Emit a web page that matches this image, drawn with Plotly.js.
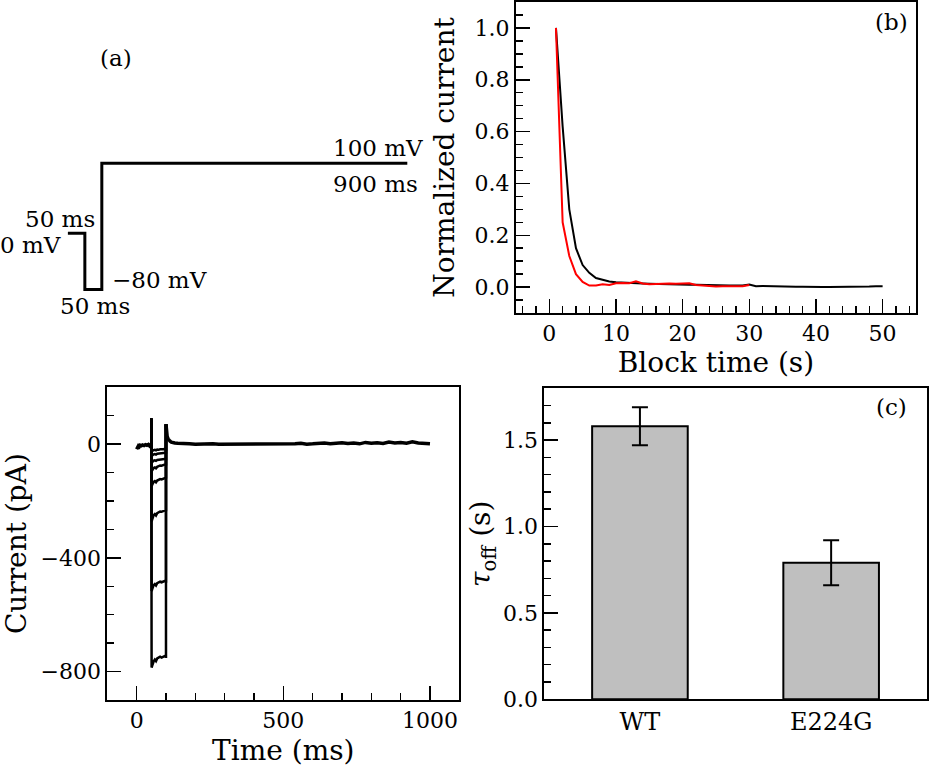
<!DOCTYPE html>
<html><head><meta charset="utf-8">
<script src="https://cdn.plot.ly/plotly-3.0.1.min.js"></script>
<style>html,body{margin:0;padding:0;background:#fff}#chart{width:930px;height:775px}</style>
</head><body><div id="chart"></div>
<script>
// ---- Panel (a): voltage protocol ----
var protoTime = [0, 50, 50, 100, 100, 1000];
var protoVoltage = [0, 0, -80, -80, 100, 100];

// ---- Panel (b): normalized current vs block time ----
var wtBlockTime = [1,2,3,4,5,6,7,8,9,10,11,12,13,14,15,16,17,18,19,20,21,22,23,24,25,26,27,28,29,30,31,32,33,34,35,36,37,38,39,40,41,42,43,44,45,46,47,48,49,50];
var wtCurrent = [1.0,0.62,0.30,0.15,0.085,0.055,0.035,0.027,0.022,0.019,0.017,0.016,0.015,0.014,0.013,0.012,0.012,0.011,0.010,0.010,0.009,0.009,0.008,0.008,0.007,0.007,0.006,0.006,0.006,0.010,0.003,0.004,0.003,0.003,0.002,0.002,0.001,0.001,0.000,0.000,0.000,0.000,0.000,0.000,0.001,0.001,0.002,0.002,0.003,0.003];
var mutBlockTime = [1,2,3,4,5,6,7,8,9,10,11,12,13,14,15,16,17,18,19,20,21,22,23,24,25,26,27,28,29,30];
var mutCurrent = [1.0,0.25,0.12,0.05,0.02,0.006,0.006,0.011,0.008,0.015,0.016,0.015,0.022,0.014,0.011,0.012,0.014,0.014,0.013,0.014,0.015,0.008,0.006,0.004,0.002,0.003,0.003,0.002,0.003,0.008];

// ---- Bottom-left: current traces ----
var preTime = [0, 2, 4, 6, 9, 12, 16, 20, 25, 30, 35, 40, 44, 47, 50];
var preValue = [-18, -10, -14, -6, -9, -4, -6, -3, -5, -2, -4, -1, -6, -3, 0];
var stepTime = [50, 50, 51, 53, 55, 58, 62, 66, 70, 75, 80, 85, 90, 95, 99, 100, 100];
var sweep1 = [0, 90, -26, -24, -22, -21, -20, -22, -19, -20, -18, -19, -18, -17, -18, -18, 70];
var sweep2 = [0, 90, -43, -40, -37, -36, -35, -37, -34, -33, -32, -33, -31, -30, -30, -30, 70];
var sweep3 = [0, 90, -66, -63, -60, -58, -57, -59, -56, -55, -54, -55, -53, -52, -53, -53, 70];
var sweep4 = [0, 90, -96, -92, -87, -84, -82, -85, -80, -77, -75, -76, -73, -72, -71, -71, 70];
var sweep5 = [0, 90, -148, -143, -137, -133, -130, -134, -128, -125, -123, -124, -121, -119, -118, -118, 70];
var sweep6 = [0, 90, -272, -265, -257, -250, -246, -251, -243, -240, -237, -238, -235, -233, -232, -232, 70];
var sweep7 = [0, 90, -517, -510, -502, -496, -492, -497, -489, -486, -484, -486, -483, -482, -483, -483, 70];
var sweep8 = [0, 90, -786, -779, -771, -764, -758, -763, -754, -750, -748, -751, -747, -746, -748, -748, 70];
var postTime = [100,101,102,104,107,110,114,118,124,130,140,150,165,180,200,220,240,260,280,300,320,340,360,380,400,420,440,460,480,500,520,540,560,580,600,620,640,660,680,700,720,740,760,780,800,820,840,860,880,900,920,940,960,980,1000];
var postValue = [70,50,38,27,19,14,10,7,5,4,3,2,1,1,0,1,0,1,0,0,1,-1,1,0,0,2,0,1,-1,0,2,1,3,0,1,2,4,1,3,5,2,4,1,6,3,5,2,7,4,6,3,8,4,2,1];

// ---- Bottom-right: tau_off bars ----
var groups = ['WT', 'E224G'];
var tauOff = [1.58, 0.79];
var tauErr = [0.11, 0.13];

var F = 'DejaVu Serif';
var traces = [];
traces.push({x: protoTime, y: protoVoltage, xaxis: 'x', yaxis: 'y', mode: 'lines',
  line: {color: 'black', width: 3}, showlegend: false, hoverinfo: 'skip'});
traces.push({x: wtBlockTime, y: wtCurrent, xaxis: 'x2', yaxis: 'y2', mode: 'lines', name: 'WT',
  line: {color: 'black', width: 2}, showlegend: false});
traces.push({x: mutBlockTime, y: mutCurrent, xaxis: 'x2', yaxis: 'y2', mode: 'lines', name: 'E224G',
  line: {color: '#ff0000', width: 2}, showlegend: false});
traces.push({x: preTime, y: preValue, xaxis: 'x3', yaxis: 'y3', mode: 'lines',
  line: {color: 'black', width: 3.5}, showlegend: false});
[sweep1, sweep2, sweep3, sweep4, sweep5, sweep6, sweep7, sweep8].forEach(function (s) {
  traces.push({x: stepTime, y: s, xaxis: 'x3', yaxis: 'y3', mode: 'lines',
    line: {color: 'black', width: 2.5}, showlegend: false});
});
traces.push({x: postTime, y: postValue, xaxis: 'x3', yaxis: 'y3', mode: 'lines',
  line: {color: 'black', width: 3.5}, showlegend: false});
traces.push({type: 'bar', x: groups, y: tauOff, xaxis: 'x4', yaxis: 'y4', width: 0.5,
  marker: {color: '#bfbfbf', line: {color: 'black', width: 2}},
  error_y: {type: 'data', array: tauErr, color: 'black', thickness: 2, width: 8},
  showlegend: false});

function frame(extra) {
  var o = {showline: true, linewidth: 2, linecolor: 'black', mirror: true,
    ticks: 'inside', ticklen: 14, tickwidth: 1.5, tickcolor: 'black',
    showgrid: false, zeroline: false,
    tickfont: {family: F, size: 22, color: 'black'}};
  for (var k in extra) o[k] = extra[k];
  return o;
}
function ttl(t, s) { return {text: t, font: {family: F, size: 28, color: 'black'}, standoff: s}; }
var minorT = function (d) { return {ticks: 'inside', ticklen: 7, tickwidth: 1.5, tickcolor: 'black', dtick: d}; };

var ann = function (x, y, t, xa, ref) {
  return {x: x, y: y, xref: ref ? ref[0] : 'x', yref: ref ? ref[1] : 'y', text: t, showarrow: false,
    xanchor: xa || 'center', yanchor: 'middle', font: {family: F, size: 23, color: 'black'}};
};

var layout = {
  width: 930, height: 775, margin: {l: 0, r: 0, t: 0, b: 0},
  paper_bgcolor: 'white', plot_bgcolor: 'white',
  font: {family: F, color: 'black'},
  xaxis: {domain: [0, 0.5], range: [-200, 1170], visible: false, anchor: 'y'},
  yaxis: {domain: [0.5, 1], range: [-220, 333], visible: false, anchor: 'x'},
  xaxis2: frame({domain: [0.5548, 0.9849], range: [-5, 55], dtick: 10, tick0: 0, anchor: 'y2',
    minor: minorT(2), title: ttl('Block time (s)', 5)}),
  yaxis2: frame({domain: [0.5961, 0.9974], range: [-0.1, 1.1], dtick: 0.2, tick0: 0, tickformat: '.1f', anchor: 'x2',
    minor: minorT(0.05), title: ttl('Normalized current', 12)}),
  xaxis3: frame({domain: [0.1154, 0.4939], range: [-100, 1100], dtick: 500, tick0: 0, anchor: 'y3',
    minor: minorT(100), title: ttl('Time (ms)', 8)}),
  yaxis3: frame({domain: [0.0968, 0.5003], range: [-900, 200], dtick: 400, tick0: 0, anchor: 'x3',
    minor: minorT(100), title: ttl('Current (pA)', 12)}),
  xaxis4: frame({domain: [0.5853, 0.9965], type: 'category', range: [-0.5, 1.5], ticks: '', anchor: 'y4',
    tickfont: {family: F, size: 24, color: 'black'}}),
  yaxis4: frame({domain: [0.0977, 0.4990], range: [0, 1.8], dtick: 0.5, tick0: 0, tickformat: '.1f', anchor: 'x4',
    minor: minorT(0.1), title: ttl('<i>τ</i><sub>off</sub> (s)', 4)}),
  annotations: [
    ann(142, 250, '(a)'),
    ann(1052, 122, '100 mV', 'right'),
    ann(905, 71, '900 ms'),
    ann(-23, 21, '50 ms'),
    ann(-13.5, -17, '0 mV', 'right'),
    ann(124, -66, '−80 mV', 'left'),
    ann(80, -104, '50 ms'),
    ann(0.939, 0.937, '(b)', 'center', ['x2 domain', 'y2 domain']),
    ann(0.908, 0.939, '(c)', 'center', ['x4 domain', 'y4 domain'])
  ]
};

Plotly.newPlot('chart', traces, layout, {displayModeBar: false, staticPlot: true});
</script></body></html>
